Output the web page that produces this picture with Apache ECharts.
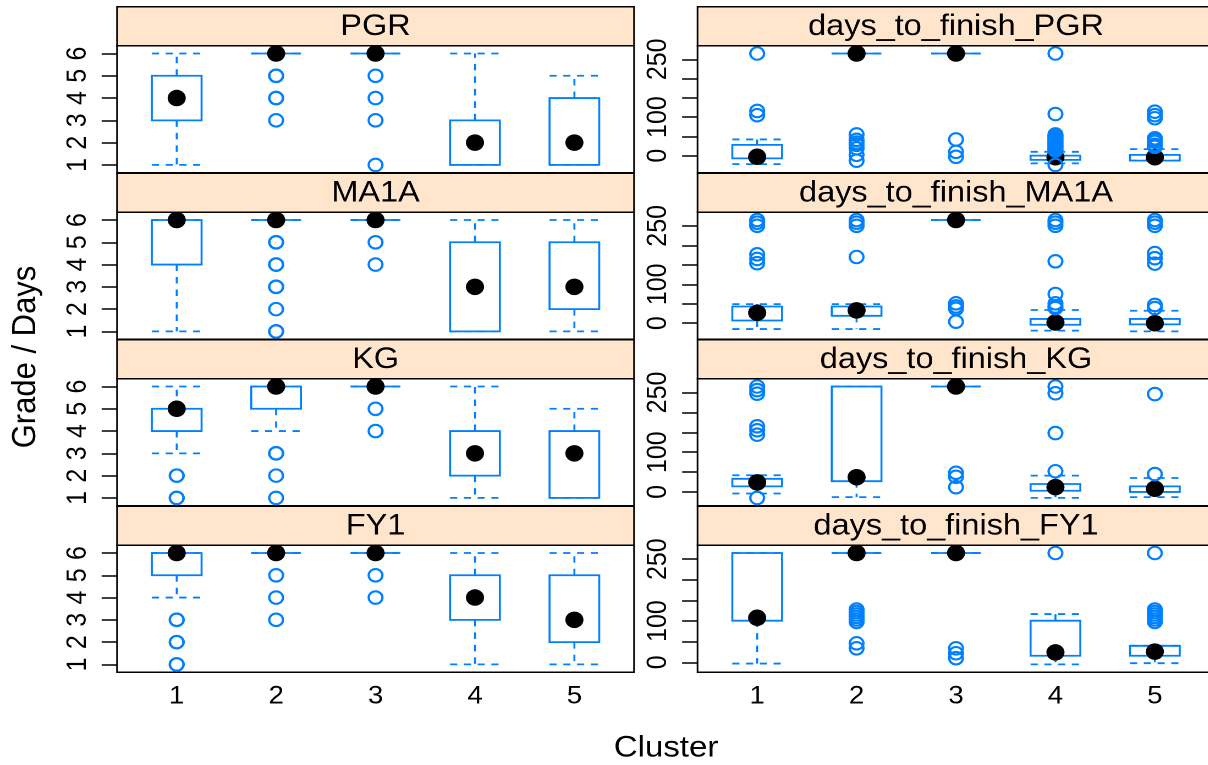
<!DOCTYPE html>
<html>
<head>
<meta charset="utf-8">
<script src="https://cdn.jsdelivr.net/npm/echarts@6/dist/echarts.min.js"></script>
<style>
  html, body { margin: 0; padding: 0; background: #fff; overflow: hidden; }
  #wrap { width: 1208px; height: 765px; overflow: hidden; }
  /* the figure is drawn a little narrower and widened to its final aspect */
  #chart { width: 1098px; height: 765px; transform: scaleX(1.1); transform-origin: 0 0; }
</style>
</head>
<body>
<div id="wrap"><div id="chart"></div></div>
<script>
// ---------- data ----------
const clusters = [1, 2, 3, 4, 5];
const gradeTicks = [1, 2, 3, 4, 5, 6];
const dayTicks = [0, 50, 100, 150, 200, 250];
const dayTickLabels = [0, 100, 250];

// per cluster: [lower whisker, Q1, median, Q3, upper whisker]
const statsPGR  = [[1, 3, 4, 5, 6], [6, 6, 6, 6, 6], [6, 6, 6, 6, 6], [1, 1, 2, 3, 6], [1, 1, 2, 4, 5]];
const outPGR    = [[], [5, 5, 4, 4, 3], [5, 4, 3, 1], [], []];
const statsMA1A = [[1, 4, 6, 6, 6], [6, 6, 6, 6, 6], [6, 6, 6, 6, 6], [1, 1, 3, 5, 6], [1, 2, 3, 5, 6]];
const outMA1A   = [[], [5, 5, 4, 4, 3, 3, 2, 1, 1], [5, 4], [], []];
const statsKG   = [[3, 4, 5, 5, 6], [4, 5, 6, 6, 6], [6, 6, 6, 6, 6], [1, 2, 3, 4, 6], [1, 1, 3, 4, 5]];
const outKG     = [[2, 2, 1, 1], [3, 3, 2, 1], [5, 4], [], []];
const statsFY1  = [[4, 5, 6, 6, 6], [6, 6, 6, 6, 6], [6, 6, 6, 6, 6], [1, 3, 4, 5, 6], [1, 2, 3, 5, 6]];
const outFY1    = [[3, 3, 2, 2, 1, 1], [5, 4, 3], [5, 4], [], []];

const statsDaysPGR  = [[-22, -7, -3, 28, 42], [265, 265, 265, 265, 265], [265, 265, 265, 265, 265], [-20, -11, -4, 0, 10], [-13, -13, -4, 2, 17]];
const outDaysPGR    = [[265, 116, 105], [55, 41, 34, 28, 19, 2, -13], [42, 10, -3],
                       [265, 108, 55, 52, 49, 46, 43, 40, 37, 34, 31, 28, 25, 22, 19, 16, 13, -24],
                       [114, 105, 97, 45, 40, 36, 28, 23]];
const statsDaysMA1A = [[-15, 7, 27, 43, 49], [-15, 19, 33, 43, 49], [265, 265, 265, 265, 265], [-19, -4, 2, 11, 34], [-21, -3, 0, 11, 32]];
const outDaysMA1A   = [[265, 258, 250, 177, 165, 154], [265, 258, 250, 170], [51, 43, 37, 4],
                       [265, 258, 250, 159, 75, 51, 43, 39], [265, 258, 250, 180, 167, 153, 47, 39]];
const statsDaysKG   = [[-4, 14, 24, 33, 42], [-13, 27, 37, 265, 265], [265, 265, 265, 265, 265], [-15, 3, 12, 20, 41], [-13, 0, 8, 14, 35]];
const outDaysKG     = [[265, 256, 247, 165, 155, 144, -15], [], [48, 38, 12], [265, 248, 148, 52], [246, 45]];
const statsDaysFY1  = [[-3, 101, 108, 265, 265], [265, 265, 265, 265, 265], [265, 265, 265, 265, 265], [-5, 16, 24, 101, 117], [-2, 16, 26, 40, 40]];
const outDaysFY1    = [[], [128, 122, 116, 110, 104, 98, 46, 34], [34, 22, 10], [265], [265, 128, 122, 116, 110, 104, 98]];

const panelTitles = ['PGR', 'MA1A', 'KG', 'FY1',
                     'days_to_finish_PGR', 'days_to_finish_MA1A', 'days_to_finish_KG', 'days_to_finish_FY1'];
const panelStats = [statsPGR, statsMA1A, statsKG, statsFY1, statsDaysPGR, statsDaysMA1A, statsDaysKG, statsDaysFY1];
const panelOut   = [outPGR, outMA1A, outKG, outFY1, outDaysPGR, outDaysMA1A, outDaysKG, outDaysFY1];

// ---------- layout & style ----------
const BLUE = '#0080ff';
const FONT = '"Liberation Sans", Arial, Helvetica, sans-serif';
const colLeft = [106.4, 634.1];
const panelW = 470;
const rowTop0 = 6.7, rowStep = 166.5, stripH = 39, plotH = 127;
const boxHalf = 0.25;
const pad = 0.07;

function extent(stats, out) {
  let lo = Infinity, hi = -Infinity;
  stats.forEach(s => s.forEach(v => { lo = Math.min(lo, v); hi = Math.max(hi, v); }));
  out.forEach(o => o.forEach(v => { lo = Math.min(lo, v); hi = Math.max(hi, v); }));
  const r = hi - lo;
  return [lo - pad * r, hi + pad * r];
}

function renderBox(params, api) {
  const x = api.value(0);
  const lo = api.value(1), q1 = api.value(2), q3 = api.value(4), hi = api.value(5);
  const xl = api.coord([x - boxHalf, lo])[0];
  const xr = api.coord([x + boxHalf, lo])[0];
  const xc = api.coord([x, lo])[0];
  const yLo = api.coord([x, lo])[1], yQ1 = api.coord([x, q1])[1];
  const yQ3 = api.coord([x, q3])[1], yHi = api.coord([x, hi])[1];
  const dashed = { stroke: BLUE, lineWidth: 1.8, lineDash: [6.5, 6], fill: null };
  const solid = { stroke: BLUE, lineWidth: 1.8, fill: null };
  return {
    type: 'group',
    children: [
      { type: 'line', shape: { x1: xc, y1: yQ3, x2: xc, y2: yHi }, style: dashed },
      { type: 'line', shape: { x1: xc, y1: yQ1, x2: xc, y2: yLo }, style: dashed },
      { type: 'line', shape: { x1: xl, y1: yHi, x2: xr, y2: yHi }, style: dashed },
      { type: 'line', shape: { x1: xl, y1: yLo, x2: xr, y2: yLo }, style: dashed },
      { type: 'rect', shape: { x: xl, y: yQ3, width: xr - xl, height: yQ1 - yQ3 }, style: solid }
    ]
  };
}

const grids = [], xAxes = [], yAxes = [], series = [], graphics = [];

panelTitles.forEach((title, p) => {
  const col = p < 4 ? 0 : 1;
  const row = p % 4;
  const isGrade = col === 0;
  const stats = panelStats[p], out = panelOut[p];
  const top = rowTop0 + row * rowStep;
  const [ymin, ymax] = extent(stats, out);

  grids.push({
    left: colLeft[col], top: top + stripH, width: panelW, height: plotH,
    outerBoundsMode: 'none', containLabel: false,
    show: true, borderColor: '#000', borderWidth: 1.5, backgroundColor: 'transparent'
  });
  xAxes.push({
    gridIndex: p, type: 'value', min: 0.4, max: 5.6,
    axisLine: { show: false }, splitLine: { show: false },
    axisTick: { show: false },
    axisLabel: {
      show: row === 3, customValues: clusters, margin: 12,
      fontSize: 25, fontFamily: FONT, color: '#000'
    }
  });
  yAxes.push({
    gridIndex: p, type: 'value', min: ymin, max: ymax,
    axisLine: { show: false }, splitLine: { show: false },
    axisTick: {
      show: true, length: 14, customValues: isGrade ? gradeTicks : dayTicks,
      lineStyle: { color: '#000', width: 1.5 }
    },
    axisLabel: {
      rotate: 90, margin: 23, customValues: isGrade ? gradeTicks : dayTickLabels,
      fontSize: 25, fontFamily: FONT, color: '#000'
    }
  });

  series.push({
    type: 'custom', xAxisIndex: p, yAxisIndex: p, z: 2, silent: true,
    renderItem: renderBox,
    encode: { x: 0, y: [1, 2, 3, 4, 5] },
    data: stats.map((s, i) => [clusters[i]].concat(s))
  });
  series.push({
    type: 'scatter', xAxisIndex: p, yAxisIndex: p, z: 3, silent: true,
    symbol: 'circle', symbolSize: 16.5,
    itemStyle: { color: '#000', opacity: 1 },
    data: stats.map((s, i) => [clusters[i], s[2]])
  });
  const pts = [];
  out.forEach((o, i) => o.forEach(v => pts.push([clusters[i], v])));
  series.push({
    type: 'scatter', xAxisIndex: p, yAxisIndex: p, z: 4, silent: true,
    symbol: 'circle', symbolSize: 12.5,
    itemStyle: { color: 'rgba(0,0,0,0)', borderColor: BLUE, borderWidth: 2.1, opacity: 1 },
    data: pts
  });

  graphics.push({
    type: 'rect', z: 10,
    shape: { x: colLeft[col], y: top, width: panelW, height: stripH },
    style: { fill: '#ffe5cc', stroke: '#000', lineWidth: 1.5 }
  });
  graphics.push({
    type: 'text', z: 11,
    style: {
      text: title, x: colLeft[col] + panelW / 2, y: top + 20.3,
      textAlign: 'center', textVerticalAlign: 'middle',
      fontSize: 29.5, fontFamily: FONT, fill: '#000'
    }
  });
});

graphics.push({
  type: 'text', z: 11, x: 23.6, y: 357, rotation: Math.PI / 2,
  style: {
    text: 'Grade / Days', x: 0, y: 0, textAlign: 'center', textVerticalAlign: 'middle',
    fontSize: 31, fontFamily: FONT, fill: '#000'
  }
});
graphics.push({
  type: 'text', z: 11,
  style: {
    text: 'Cluster', x: 605.5, y: 748, textAlign: 'center', textVerticalAlign: 'middle',
    fontSize: 30, fontFamily: FONT, fill: '#000'
  }
});

const chart = echarts.init(document.getElementById('chart'), null, { renderer: 'canvas', devicePixelRatio: 2 });
chart.setOption({
  animation: false,
  backgroundColor: '#fff',
  grid: grids,
  xAxis: xAxes,
  yAxis: yAxes,
  series: series,
  graphic: { elements: graphics }
});
</script>
</body>
</html>
